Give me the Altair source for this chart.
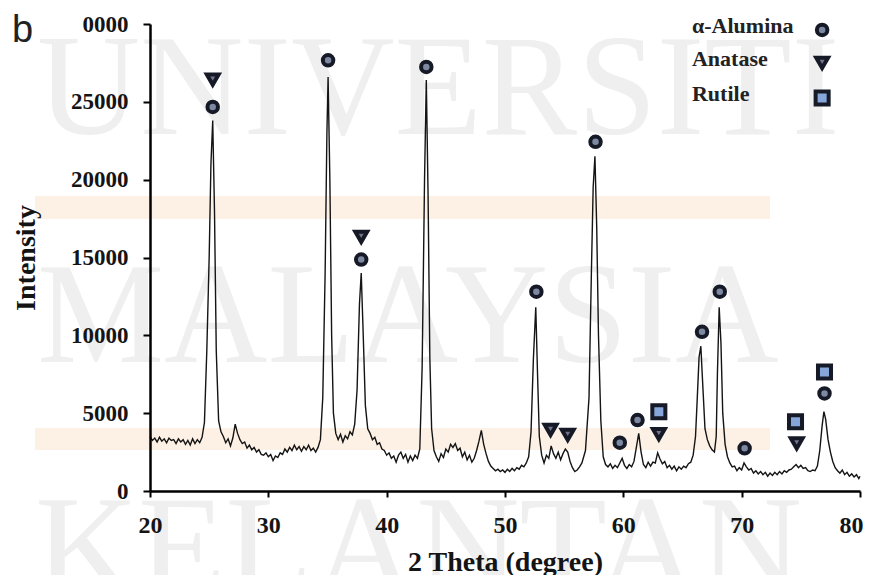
import altair as alt
import pandas as pd

# ---------------- data ----------------
two_theta = [
    20.0, 20.2, 20.4, 20.6, 20.8, 21.0, 21.2, 21.4, 21.6, 21.8,
    22.0, 22.2, 22.4, 22.6, 22.8, 23.0, 23.2, 23.4, 23.6, 23.8,
    24.0, 24.2, 24.4, 24.6, 24.8, 25.0, 25.15, 25.3, 25.45, 25.6,
    25.8, 26.0, 26.2, 26.4, 26.6, 26.8, 27.0, 27.2, 27.4, 27.6,
    27.8, 28.0, 28.2, 28.4, 28.6, 28.8, 29.0, 29.2, 29.4, 29.6,
    29.8, 30.0, 30.2, 30.4, 30.6, 30.8, 31.0, 31.2, 31.4, 31.6,
    31.8, 32.0, 32.2, 32.4, 32.6, 32.8, 33.0, 33.2, 33.4, 33.6,
    33.8, 34.0, 34.2, 34.4, 34.6, 34.8, 34.95, 35.05, 35.2, 35.35,
    35.5, 35.7, 35.9, 36.1, 36.3, 36.5, 36.7, 36.9, 37.1, 37.3,
    37.5, 37.7, 37.85, 38.0, 38.2, 38.4, 38.6, 38.8, 39.0, 39.2,
    39.4, 39.6, 39.8, 40.0, 40.2, 40.4, 40.6, 40.8, 41.0, 41.2,
    41.4, 41.6, 41.8, 42.0, 42.2, 42.4, 42.6, 42.8, 43.0, 43.2,
    43.35, 43.5, 43.65, 43.8, 44.0, 44.2, 44.4, 44.6, 44.8, 45.0,
    45.2, 45.4, 45.6, 45.8, 46.0, 46.2, 46.4, 46.6, 46.8, 47.0,
    47.2, 47.4, 47.6, 47.8, 48.0, 48.2, 48.4, 48.6, 48.8, 49.0,
    49.2, 49.4, 49.6, 49.8, 50.0, 50.2, 50.4, 50.6, 50.8, 51.0,
    51.2, 51.4, 51.6, 51.8, 52.0, 52.2, 52.4, 52.6, 52.75, 52.9,
    53.1, 53.3, 53.5, 53.7, 53.9, 54.1, 54.3, 54.5, 54.7, 54.9,
    55.1, 55.3, 55.5, 55.7, 55.9, 56.1, 56.3, 56.5, 56.8, 57.1,
    57.3, 57.45, 57.6, 57.75, 57.9, 58.1, 58.3, 58.5, 58.7, 58.9,
    59.1, 59.3, 59.5, 59.7, 59.9, 60.1, 60.3, 60.5, 60.7, 60.9,
    61.1, 61.3, 61.5, 61.7, 61.9, 62.1, 62.3, 62.5, 62.7, 62.9,
    63.1, 63.3, 63.5, 63.7, 63.9, 64.1, 64.3, 64.5, 64.7, 64.9,
    65.1, 65.3, 65.5, 65.7, 65.9, 66.1, 66.25, 66.4, 66.55, 66.7,
    66.9, 67.1, 67.3, 67.5, 67.7, 67.85, 67.95, 68.1, 68.25, 68.4,
    68.6, 68.8, 69.0, 69.2, 69.4, 69.6, 69.8, 70.0, 70.2, 70.4,
    70.6, 70.8, 71.0, 71.2, 71.4, 71.6, 71.8, 72.0, 72.2, 72.4,
    72.6, 72.8, 73.0, 73.2, 73.4, 73.6, 73.8, 74.0, 74.2, 74.4,
    74.6, 74.8, 75.0, 75.2, 75.4, 75.6, 75.8, 76.0, 76.2, 76.4,
    76.6, 76.8, 76.95, 77.1, 77.3, 77.5, 77.7, 77.9, 78.1, 78.3,
    78.5, 78.7, 78.9, 79.1, 79.3, 79.5, 79.7, 79.9, 80.0,
]
intensity = [
    3500, 3250, 3400, 3150, 3450, 3200, 3350, 3100, 3400, 3250,
    3300, 3050, 3350, 3150, 3300, 3000, 3250, 2950, 3350, 3050,
    3300, 3100, 3450, 4400, 9000, 15000, 21000, 23800, 18000, 9000,
    4500, 3800, 3500, 3100, 3350, 2900, 3400, 4300, 3700, 3300,
    3050, 3150, 2750, 2950, 2650, 2800, 2500, 2650, 2350, 2300,
    2450, 2200, 2350, 1950, 2250, 2150, 2450, 2350, 2700, 2500,
    2800, 2600, 2950, 2650, 2850, 2550, 2850, 2650, 2950, 2600,
    2750, 2500, 2800, 3300, 6000, 14000, 23000, 26600, 20000, 10000,
    5000, 3700, 3300, 3650, 3150, 3550, 3350, 3800, 3600, 4300,
    6500, 12000, 14000, 10500, 5500, 4000, 3700, 3300, 3450, 3000,
    3100, 2700, 2600, 2300, 2450, 2100, 2250, 1850, 2300, 2500,
    2100, 2350, 1850, 2250, 1950, 2300, 2100, 2700, 8000, 20000,
    26400, 19000, 8500, 4000, 2600, 2200, 1900, 2400, 2150, 2700,
    2500, 3000, 2800, 3050, 2600, 2750, 2200, 2500, 2000, 2300,
    1850, 2100, 2600, 3200, 3900, 3000, 2400, 1900, 1600, 1450,
    1300, 1400, 1250, 1350, 1200, 1400, 1250, 1450, 1300, 1500,
    1400, 1650, 1550, 1800, 2200, 3800, 8500, 11800, 7500, 3500,
    2300, 1800, 2300, 2100, 2900, 2400, 2100, 2500, 2000, 2400,
    2700, 2500, 1900, 1500, 1250, 1350, 1550, 1800, 2600, 6000,
    14000, 19500, 21500, 17000, 10000, 4500, 2200, 1700, 1550, 1750,
    1450, 1650, 1500, 1800, 2100, 1650, 1450, 1700, 1550, 1900,
    2800, 3700, 2500, 1700, 1500, 1850, 1600, 1850, 1800, 2450,
    2050, 1750, 1900, 1500, 1650, 1400, 1600, 1300, 1550, 1400,
    1600, 1500, 1750, 1850, 2300, 3500, 6000, 8600, 9300, 7000,
    4000, 3300, 2900, 2650, 2500, 3500, 7500, 11800, 9500, 5000,
    3000, 2200, 1800, 1550, 1600, 1300, 1500, 1350, 1800, 1550,
    1350, 1450, 1150, 1300, 1100, 1250, 1050, 1200, 950, 1150,
    1000, 1200, 1050, 1250, 1100, 1300, 1200, 1350, 1400, 1550,
    1700, 1500, 1650, 1450, 1500, 1300, 1250, 1350, 1300, 1600,
    2600, 4200, 5100, 4600, 3300, 2500, 1900, 1500, 1300, 1150,
    1350, 1050, 1200, 950, 1100, 900, 1050, 800, 950,
]

# phase markers placed above the peaks
alumina_2theta = [25.3, 35.05, 37.85, 43.35, 52.65, 57.65, 59.7, 61.2, 66.65, 68.15, 70.25, 77.0]
alumina_int = [24670, 27670, 14870, 27240, 12800, 22430, 3100, 4560, 10230, 12800, 2740, 6270]
anatase_2theta = [25.3, 37.85, 53.85, 55.3, 63.0, 74.65]
anatase_int = [26430, 16330, 3920, 3600, 3650, 3060]
rutile_2theta = [63.0, 74.55, 77.0]
rutile_int = [5090, 4450, 7640]

phase_names = ["α-Alumina", "Anatase", "Rutile"]
x_ticks = [20, 30, 40, 50, 60, 70, 80]
y_ticks = [0, 5000, 10000, 15000, 20000, 25000, 30000]
watermark_words = ["UNIVERSITI", "MALAYSIA", "KELANTAN"]

# ---------------- layout / styles ----------------
W, H = 710, 467
SERIF = "Liberation Serif"
INK = "#141414"

trace = pd.DataFrame({"two_theta": two_theta, "intensity": intensity})

markers = pd.concat([
    pd.DataFrame({"two_theta": alumina_2theta, "intensity": alumina_int, "phase": phase_names[0]}),
    pd.DataFrame({"two_theta": anatase_2theta, "intensity": anatase_int, "phase": phase_names[1]}),
    pd.DataFrame({"two_theta": rutile_2theta, "intensity": rutile_int, "phase": phase_names[2]}),
], ignore_index=True)

# hand-made legend (labels left, symbols right), placed through the chart scales
legend_symbol_x = 76.8
legend_text_x = 65.8
legend_rows = [29615, 27495, 25246]
legend_sym = pd.DataFrame({"two_theta": [legend_symbol_x] * 3, "intensity": legend_rows, "phase": phase_names})
legend_txt = pd.DataFrame({"two_theta": [legend_text_x] * 3,
                           "intensity": [r + 230 for r in legend_rows], "label": phase_names})

x_scale = alt.Scale(domain=[20, 80], nice=False, zero=False)
y_scale = alt.Scale(domain=[0, 30000], nice=False)

x_axis = alt.Axis(values=x_ticks, format="d", title="2 Theta (degree)", zindex=1,
                  labelFontSize=24, tickSize=6, labelPadding=16, labelFlush=False,
                  labelOffset={"condition": {"test": "datum.value == 80", "value": -9}, "value": 0},
                  titleFontSize=28, titleX=355, titleY=79, titleBaseline="alphabetic")
y_axis = alt.Axis(values=y_ticks, format="d", title="Intensity", zindex=1,
                  labelFontSize=23, tickSize=7, labelPadding=15,
                  labelExpr="datum.value == 30000 ? '0000' : datum.label",
                  titleFontSize=28, titleX=-116, titleY=233.5, titleAlign="center",
                  titleBaseline="alphabetic")

X = alt.X("two_theta:Q", scale=x_scale, axis=x_axis)
Y = alt.Y("intensity:Q", scale=y_scale, axis=y_axis)

one = pd.DataFrame({"k": [0]})

# watermark words
wm_pos = [(-113, 110), (-113, 338), (-115, 571)]
watermark = [
    alt.Chart(one).mark_text(text=word, align="left", baseline="alphabetic", font=SERIF,
                             fontSize=143, color="#efefef")
    .encode(x=alt.value(px), y=alt.value(py))
    for word, (px, py) in zip(watermark_words, wm_pos)
]

bands = [
    alt.Chart(one).mark_rect(color="#fdf1e6").encode(
        x=alt.value(-115), x2=alt.value(620), y=alt.value(y0), y2=alt.value(y1))
    for (y0, y1) in [(172, 195), (404, 426)]
]

line = alt.Chart(trace).mark_line(color=INK, strokeWidth=1.4, interpolate="linear").encode(x=X, y=Y)

shape_enc = alt.Shape("phase:N", scale=alt.Scale(domain=phase_names, range=["circle", "triangle-down", "square"]), legend=None)
fill_enc = alt.Fill("phase:N", scale=alt.Scale(domain=phase_names, range=["#7d89a1", "#77738b", "#86a5d8"]), legend=None)
size_enc = alt.Size("phase:N", scale=alt.Scale(domain=phase_names, range=[110, 170, 160]), legend=None)


def point_layer(df):
    return alt.Chart(df).mark_point(filled=True, opacity=1, stroke="#161a26", strokeWidth=4).encode(
        x=X, y=Y, shape=shape_enc, fill=fill_enc, size=size_enc)


points = point_layer(markers)
legend_points = point_layer(legend_sym)
legend_text = alt.Chart(legend_txt).mark_text(align="left", baseline="middle", font=SERIF,
                                               fontWeight="bold", fontSize=22, color="#222222").encode(
    x=X, y=Y, text="label:N")

panel_label = alt.Chart(one).mark_text(text="b", align="left", baseline="alphabetic",
                                       font="Liberation Sans", fontSize=38, color="#222222").encode(
    x=alt.value(-138), y=alt.value(18))

chart = alt.layer(
    *watermark, *bands, line, points, legend_points, legend_text, panel_label
).properties(
    width=W, height=H,
    padding={"left": 142, "top": 16, "right": 10, "bottom": 84},
    autosize=alt.AutoSizeParams(type="none"),
    background="white",
).configure_view(stroke=None).configure_axis(
    grid=False, domainColor="#000000", domainWidth=2.5, tickColor="#000000", tickWidth=2,
    labelFont=SERIF, labelFontWeight="bold", labelColor=INK,
    titleFont=SERIF, titleFontWeight="bold", titleColor=INK,
)

chart.save("out.html", embed_options={"renderer": "svg", "actions": False})
